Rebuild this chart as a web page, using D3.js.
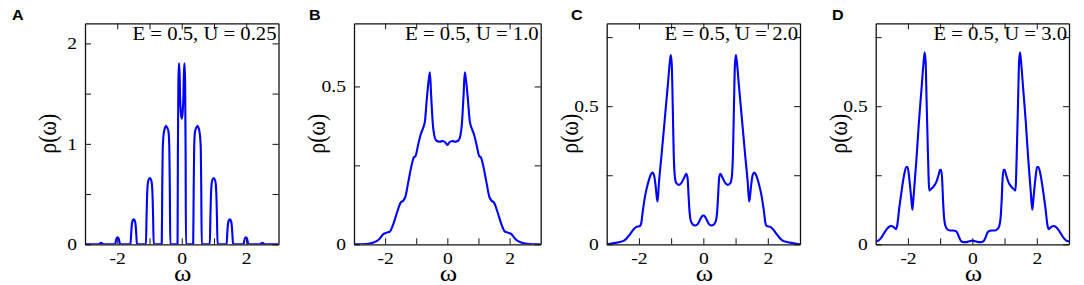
<!DOCTYPE html>
<html>
<head>
<meta charset="utf-8">
<script src="https://cdn.jsdelivr.net/npm/d3@7"></script>
<style>
  body { margin: 0; background: #fff; }
  svg { display: block; }
</style>
</head>
<body>
<script>
// density of states rho(omega), four values of U
const omegaA = [-3.0, -2.57, -2.54, -2.5, -2.46, -2.43, -2.07, -2.04, -2.02, -1.99, -1.96, -1.94, -1.91,
  -1.59, -1.57, -1.55, -1.52, -1.49, -1.46, -1.43, -1.41, -1.39, -1.11, -1.09, -1.07, -1.04, -0.99, -0.94,
  -0.91, -0.89, -0.87, -0.62, -0.605, -0.59, -0.56, -0.52, -0.49, -0.45, -0.41, -0.385, -0.37, -0.355,
  -0.13, -0.12, -0.105, -0.09, -0.075, -0.05, -0.025, 0,
  0.025, 0.05, 0.075, 0.09, 0.105, 0.12, 0.13, 0.355, 0.37, 0.385, 0.41, 0.45, 0.49, 0.52, 0.56, 0.59,
  0.605, 0.62, 0.87, 0.89, 0.91, 0.94, 0.99, 1.04, 1.07, 1.09, 1.11, 1.39, 1.41, 1.43, 1.46, 1.49, 1.52,
  1.55, 1.57, 1.59, 1.91, 1.94, 1.96, 1.99, 2.02, 2.04, 2.07, 2.43, 2.46, 2.5, 2.54, 2.57, 3.0];
const rhoA = [0, 0, 0.008, 0.015, 0.008, 0, 0, 0.035, 0.06, 0.07, 0.06, 0.035, 0,
  0, 0.1, 0.19, 0.24, 0.25, 0.24, 0.19, 0.1, 0, 0, 0.3, 0.52, 0.63, 0.66, 0.63,
  0.52, 0.3, 0, 0, 0.55, 0.95, 1.1, 1.16, 1.18, 1.16, 1.12, 0.95, 0.55, 0,
  0, 0.9, 1.6, 1.8, 1.8, 1.45, 1.3, 1.25,
  1.3, 1.45, 1.8, 1.8, 1.6, 0.9, 0, 0, 0.55, 0.95, 1.12, 1.16, 1.18, 1.16, 1.1, 0.95,
  0.55, 0, 0, 0.3, 0.52, 0.63, 0.66, 0.63, 0.52, 0.3, 0, 0, 0.1, 0.19, 0.24, 0.25, 0.24,
  0.19, 0.1, 0, 0, 0.035, 0.06, 0.07, 0.06, 0.035, 0, 0, 0.008, 0.015, 0.008, 0, 0];

const omegaB = [-3.0, -2.6, -2.4, -2.2, -2.05, -1.95, -1.85, -1.75, -1.62, -1.5, -1.42, -1.35, -1.25, -1.15,
  -1.08, -1.02, -0.95, -0.85, -0.78, -0.72, -0.66, -0.6, -0.56, -0.52, -0.47, -0.42, -0.35, -0.25, -0.15, -0.07, 0,
  0.07, 0.15, 0.25, 0.35, 0.42, 0.47, 0.52, 0.56, 0.6, 0.66, 0.72, 0.78, 0.85, 0.95, 1.02, 1.08, 1.15, 1.25,
  1.35, 1.42, 1.5, 1.62, 1.75, 1.85, 1.95, 2.05, 2.2, 2.4, 2.6, 3.0];
const rhoB = [0, 0.001, 0.005, 0.015, 0.033, 0.037, 0.04, 0.06, 0.1, 0.132, 0.138, 0.15, 0.2, 0.25,
  0.275, 0.28, 0.31, 0.35, 0.368, 0.39, 0.46, 0.52, 0.545, 0.47, 0.385, 0.345, 0.328, 0.325, 0.327, 0.323, 0.315,
  0.323, 0.327, 0.325, 0.328, 0.345, 0.385, 0.47, 0.545, 0.52, 0.46, 0.39, 0.368, 0.35, 0.31, 0.28, 0.275, 0.25, 0.2,
  0.15, 0.138, 0.132, 0.1, 0.06, 0.04, 0.037, 0.033, 0.015, 0.005, 0.001, 0];

const omegaC = [-3.0, -2.8, -2.6, -2.45, -2.3, -2.18, -2.08, -1.97, -1.93, -1.88, -1.8, -1.72, -1.64, -1.58,
  -1.53, -1.48, -1.44, -1.42, -1.38, -1.3, -1.2, -1.1, -1.04, -1.01, -0.98, -0.95, -0.92, -0.88, -0.84, -0.76,
  -0.68, -0.6, -0.53, -0.49, -0.46, -0.43, -0.39, -0.33, -0.25, -0.17, -0.1, -0.05, 0,
  0.05, 0.1, 0.17, 0.25, 0.33, 0.39, 0.43, 0.46, 0.49, 0.53, 0.6, 0.68, 0.76, 0.84, 0.88, 0.92, 0.95, 0.98,
  1.01, 1.04, 1.1, 1.2, 1.3, 1.38, 1.42, 1.44, 1.48, 1.53, 1.58, 1.64, 1.72, 1.8, 1.88, 1.93, 1.97, 2.08,
  2.18, 2.3, 2.45, 2.6, 2.8, 3.0];
const rhoC = [0, 0.004, 0.008, 0.014, 0.033, 0.052, 0.063, 0.066, 0.075, 0.12, 0.18, 0.22, 0.25, 0.26,
  0.25, 0.21, 0.165, 0.155, 0.22, 0.32, 0.45, 0.58, 0.66, 0.685, 0.65, 0.5, 0.33, 0.24, 0.222, 0.215,
  0.222, 0.24, 0.255, 0.24, 0.18, 0.12, 0.085, 0.072, 0.068, 0.074, 0.09, 0.1, 0.104,
  0.1, 0.09, 0.074, 0.068, 0.072, 0.085, 0.12, 0.18, 0.24, 0.255, 0.24, 0.222, 0.215, 0.222, 0.24, 0.33, 0.5, 0.65,
  0.685, 0.66, 0.58, 0.45, 0.32, 0.22, 0.155, 0.165, 0.21, 0.25, 0.26, 0.25, 0.22, 0.18, 0.12, 0.075, 0.066, 0.063,
  0.052, 0.033, 0.014, 0.008, 0.004, 0];

const omegaD = [-3.0, -2.92, -2.82, -2.7, -2.6, -2.52, -2.44, -2.37, -2.33, -2.27, -2.2, -2.12, -2.05, -2.01,
  -1.96, -1.9, -1.86, -1.82, -1.74, -1.66, -1.58, -1.52, -1.48, -1.45, -1.42, -1.39, -1.36, -1.34, -1.28, -1.2,
  -1.12, -1.05, -1.0, -0.97, -0.94, -0.91, -0.88, -0.84, -0.78, -0.7, -0.6, -0.52, -0.46, -0.41, -0.36, -0.28,
  -0.18, -0.09, 0,
  0.09, 0.18, 0.28, 0.36, 0.41, 0.46, 0.52, 0.6, 0.7, 0.78, 0.84, 0.88, 0.91, 0.94, 0.97, 1.0, 1.05, 1.12, 1.2,
  1.28, 1.34, 1.36, 1.39, 1.42, 1.45, 1.48, 1.52, 1.58, 1.66, 1.74, 1.82, 1.86, 1.9, 1.96, 2.01, 2.05, 2.12, 2.2,
  2.27, 2.33, 2.37, 2.44, 2.52, 2.6, 2.7, 2.82, 2.92, 3.0];
const rhoD = [0.01, 0.013, 0.025, 0.048, 0.062, 0.066, 0.062, 0.055, 0.07, 0.13, 0.19, 0.25, 0.28, 0.28,
  0.24, 0.17, 0.125, 0.18, 0.3, 0.44, 0.56, 0.65, 0.695, 0.66, 0.52, 0.38, 0.25, 0.195, 0.2, 0.21,
  0.225, 0.25, 0.27, 0.27, 0.24, 0.16, 0.1, 0.068, 0.055, 0.05, 0.05, 0.048, 0.04, 0.025, 0.013, 0.008,
  0.008, 0.011, 0.014,
  0.011, 0.008, 0.008, 0.013, 0.025, 0.04, 0.048, 0.05, 0.05, 0.055, 0.068, 0.1, 0.16, 0.24, 0.27, 0.27, 0.25, 0.225, 0.21,
  0.2, 0.195, 0.25, 0.38, 0.52, 0.66, 0.695, 0.65, 0.56, 0.44, 0.3, 0.18, 0.125, 0.17, 0.24, 0.28, 0.28, 0.25, 0.19,
  0.13, 0.07, 0.055, 0.062, 0.066, 0.062, 0.048, 0.025, 0.013, 0.01];

const letters = ["A", "B", "C", "D"];
const notes = ["E = 0.5, U = 0.25", "E = 0.5, U = 1.0", "E = 0.5, U = 2.0", "E = 0.5, U = 3.0"];
const xTicks = [-2, -1, 0, 1, 2];
const xTickLabels = [-2, 0, 2];
const yTicksA = [0, 0.5, 1, 1.5, 2];
const yTickLabelsA = [0, 1, 2];
const yTicksBCD = [0, 0.25, 0.5, 0.75];
const yTickLabelsBCD = [0, 0.5];

const W = 1084, H = 285;
const TOP = 23.3, BOTTOM = 244.3;
const SERIF = "'Liberation Serif', 'Times New Roman', serif";
const STRETCH = "scale(1.15,1)";

const svg = d3.select("body").append("svg").attr("width", W).attr("height", H);
svg.append("rect").attr("width", W).attr("height", H).attr("fill", "#fff");

const panels = [
  {omega: omegaA, rho: rhoA, yMax: 2.2, yTicks: yTicksA, yLabels: yTickLabelsA, left: 85, right: 278.5, letterX: 12},
  {omega: omegaB, rho: rhoB, yMax: 0.7, yTicks: yTicksBCD, yLabels: yTickLabelsBCD, left: 354, right: 540.7, letterX: 309},
  {omega: omegaC, rho: rhoC, yMax: 0.8, yTicks: yTicksBCD, yLabels: yTickLabelsBCD, left: 606.7, right: 800, letterX: 571},
  {omega: omegaD, rho: rhoD, yMax: 0.8, yTicks: yTicksBCD, yLabels: yTickLabelsBCD, left: 875.7, right: 1069, letterX: 832}
];

let styleAxis = (g) => {
  g.attr("font-family", SERIF).attr("font-size", 17);
  g.select(".domain").attr("stroke", "#111").attr("stroke-width", 1.3);
  g.selectAll(".tick line").attr("stroke", "#111").attr("stroke-width", 1);
  g.selectAll("text").attr("fill", "#000").attr("transform", STRETCH);
};

panels.forEach((p, i) => {
  const x = d3.scaleLinear().domain([-3, 3]).range([p.left, p.right]);
  const y = d3.scaleLinear().domain([0, p.yMax]).range([BOTTOM, TOP]);
  const g = svg.append("g");

  g.append("clipPath").attr("id", "clip" + i)
    .append("rect").attr("x", p.left).attr("y", TOP)
    .attr("width", p.right - p.left).attr("height", BOTTOM - TOP);

  const pts = p.omega.map((w, k) => [w, p.rho[k]]);
  const line = d3.line().x(d => x(d[0])).y(d => y(d[1])).curve(d3.curveMonotoneX);
  g.append("path").datum(pts)
    .attr("clip-path", "url(#clip" + i + ")")
    .attr("d", line)
    .attr("fill", "none")
    .attr("stroke", "#0000ff")
    .attr("stroke-width", 2.1)
    .attr("stroke-linejoin", "round");

  g.append("g").attr("transform", `translate(0,${BOTTOM})`)
    .call(d3.axisBottom(x).tickValues(xTicks).tickSizeInner(-6).tickSizeOuter(0).tickPadding(8)
      .tickFormat(d => xTickLabels.includes(d) ? String(d) : ""))
    .call(styleAxis);
  g.append("g").attr("transform", `translate(0,${TOP})`)
    .call(d3.axisTop(x).tickValues(xTicks).tickSizeInner(-6).tickSizeOuter(0).tickFormat(""))
    .call(styleAxis);
  g.append("g").attr("transform", `translate(${p.left},0)`)
    .call(d3.axisLeft(y).tickValues(p.yTicks.filter(v => v <= p.yMax)).tickSizeInner(-6).tickSizeOuter(0).tickPadding(7)
      .tickFormat(d => p.yLabels.includes(d) ? String(d) : ""))
    .call(styleAxis);
  g.append("g").attr("transform", `translate(${p.right},0)`)
    .call(d3.axisRight(y).tickValues(p.yTicks.filter(v => v <= p.yMax)).tickSizeInner(-6).tickSizeOuter(0).tickFormat(""))
    .call(styleAxis);

  // annotation, axis titles, panel letter
  g.append("text").attr("transform", `translate(${p.right - 2},40) ${STRETCH}`)
    .attr("text-anchor", "end").attr("font-family", SERIF).attr("font-size", 18)
    .text(notes[i]);
  g.append("text").attr("transform", `translate(${p.left - 38},${(TOP + BOTTOM) / 2}) rotate(-90) scale(1,1.15)`)
    .attr("text-anchor", "middle").attr("dy", "0.35em")
    .attr("font-family", SERIF).attr("font-size", 22)
    .text("ρ(ω)");
  g.append("text").attr("transform", `translate(${(p.left + p.right) / 2 + 1},281) ${STRETCH}`)
    .attr("text-anchor", "middle").attr("font-family", SERIF).attr("font-size", 23)
    .text("ω");
  g.append("text").attr("transform", `translate(${p.letterX},19.5) ${STRETCH}`)
    .attr("font-family", "'Liberation Sans', Arial, sans-serif").attr("font-weight", "bold").attr("font-size", 14)
    .text(letters[i]);
});
</script>
</body>
</html>
